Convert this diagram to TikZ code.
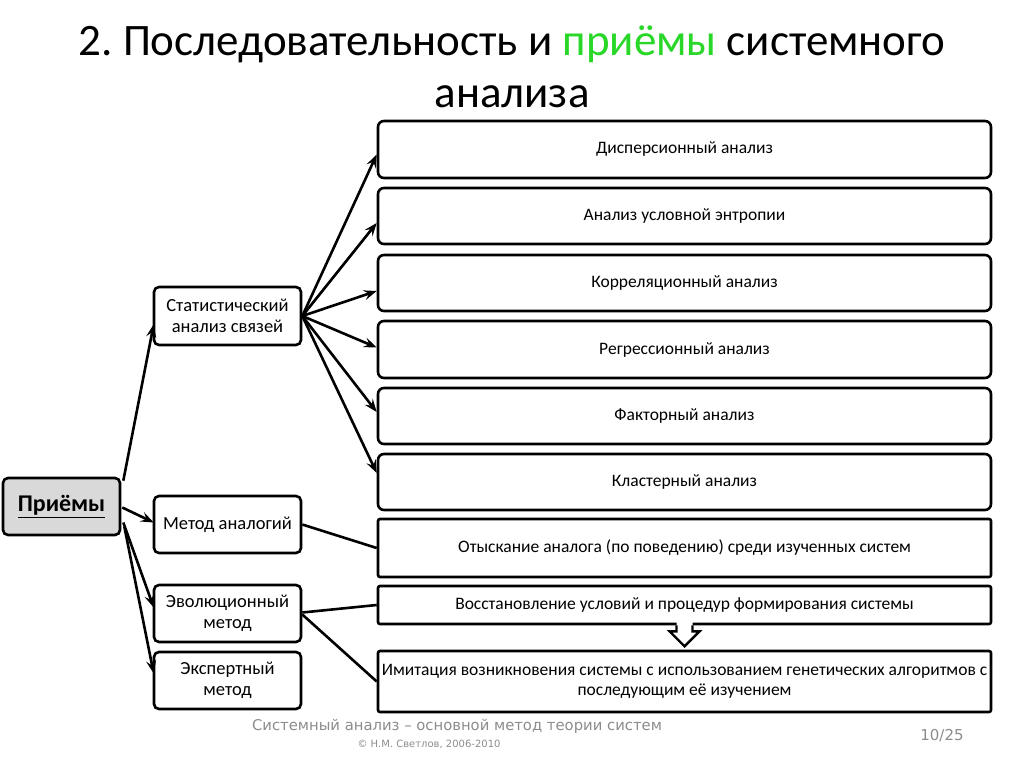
\documentclass[tikz,border=0pt]{standalone}
\usepackage{fontspec}
\setmainfont{Carlito}
\newfontfamily\footfont{DejaVu Sans}
\usetikzlibrary{arrows.meta,calc}
\frenchspacing
\definecolor{titlegreen}{RGB}{40,215,40}
\definecolor{footgray}{RGB}{140,140,140}
\definecolor{boxgray}{RGB}{217,217,217}
\tikzset{
  box/.style={draw,line width=2.6pt,rounded corners=5pt,align=center,inner sep=1pt,font=\fontsize{18.5}{21}\selectfont},
  bigbox/.style={draw,line width=2.6pt,rounded corners=6pt,minimum width=613pt,align=center,inner sep=1pt,font=\fontsize{17.5}{20}\selectfont},
  sqbox/.style={bigbox,rounded corners=2pt},
  conn/.style={line width=2.6pt},
  arr/.style={conn,-{Stealth[length=13pt,width=10pt,inset=5pt]}},
  ttl/.style={anchor=base,font=\fontsize{45}{50}\selectfont},
}
\begin{document}
\begin{tikzpicture}[x=1pt,y=-1pt]
\useasboundingbox (0,0) rectangle (1024,767);
% title
\node[ttl] (t1) at (512,56) {2. Последовательность и \textcolor{titlegreen}{приёмы} системного};
\node[ttl] (t2) at (512,108) {анализа};
% left nodes
\node[box,fill=boxgray,minimum width=117pt,minimum height=57pt,font=\fontsize{24}{26}\selectfont\bfseries] (pr) at (61.5,506.5) {\underline{Приёмы}};
\node[box,minimum width=147pt,minimum height=58pt] (st) at (227.5,316) {Статистический\\анализ связей};
\node[box,minimum width=147pt,minimum height=57pt] (ma) at (227.5,524.5) {Метод аналогий};
\node[box,minimum width=147pt,minimum height=57pt] (ev) at (227.5,613.5) {Эволюционный\\метод};
\node[box,minimum width=147pt,minimum height=57pt] (ex) at (227.5,680.5) {Экспертный\\метод};
% right nodes
\node[bigbox,minimum height=57pt] (r1) at (684.5,149.5) {Дисперсионный анализ};
\node[bigbox,minimum height=56pt] (r2) at (684.5,216) {Анализ условной энтропии};
\node[bigbox,minimum height=56pt] (r3) at (684.5,283) {Корреляционный анализ};
\node[bigbox,minimum height=57pt] (r4) at (684.5,349.5) {Регрессионный анализ};
\node[bigbox,minimum height=56pt] (r5) at (684.5,416) {Факторный анализ};
\node[bigbox,minimum height=56pt] (r6) at (684.5,482) {Кластерный анализ};
\node[sqbox,minimum height=58pt] (r7) at (684.5,548) {Отыскание аналога (по поведению) среди изученных систем};
\node[sqbox,minimum height=38pt] (r8) at (684.5,605) {Восстановление условий и процедур формирования  системы};
\node[sqbox,minimum height=61pt] (r9) at (684.5,681.5) {Имитация возникновения  системы с использованием генетических алгоритмов с\\последующим её изучением};
% hollow arrow
\coordinate (ha) at (r8.south);
\fill[white] ($(ha)+(-8,-4)$) -- ($(ha)+(8,-4)$) -- ($(ha)+(8,6)$) -- ($(ha)+(15,6)$) -- ($(ha)+(0,21)$) -- ($(ha)+(-15,6)$) -- ($(ha)+(-8,6)$) -- cycle;
\draw[line width=2.4pt,line join=miter] ($(ha)+(-8,0)$) -- ($(ha)+(-8,6)$) -- ($(ha)+(-15,6)$) -- ($(ha)+(0,21)$) -- ($(ha)+(15,6)$) -- ($(ha)+(8,6)$) -- ($(ha)+(8,0)$);
% arrows from Приёмы
\draw[arr] ($(pr.north east)+(2,4)$) -- ($(st.south west)+(1,-22)$);
\draw[arr] ($(pr.east)+(1,1)$) -- ($(ma.west)+(1,-2)$);
\draw[arr] ($(pr.east)+(2,16)$) -- ($(ev.west)+(1,-6)$);
\draw[arr] ($(pr.east)+(3,20)$) -- ($(ex.west)+(1,-7)$);
% arrows from stat
\draw[arr] (st.east) -- ($(r1.west)+(0,5)$);
\draw[arr] (st.east) -- ($(r2.west)+(0,7)$);
\draw[arr] (st.east) -- ($(r3.west)+(0,8)$);
\draw[arr] (st.east) -- ($(r4.west)+(0,-2)$);
\draw[arr] (st.east) -- ($(r5.west)+(0,-4)$);
\draw[arr] (st.east) -- ($(r6.west)+(0,-9)$);
% plain connectors
\draw[conn] (ma.east) -- (r7.west);
\draw[conn] ($(ev.east)+(0,-1)$) -- (r8.west);
\draw[conn] ($(ev.east)+(0,1)$) -- (r9.west);
% footer
\node[text=footgray,font=\footfont\fontsize{14.8}{16}\selectfont] (f1) at (457,726) {Системный анализ – основной метод теории систем};
\node[text=footgray,font=\footfont\fontsize{10}{12}\selectfont] (f2) at (429,744) {© Н.М. Светлов, 2006-2010};
\node[text=footgray,font=\footfont\fontsize{15}{17}\selectfont] (pg) at (942,736) {10/25};
\end{tikzpicture}
\end{document}
